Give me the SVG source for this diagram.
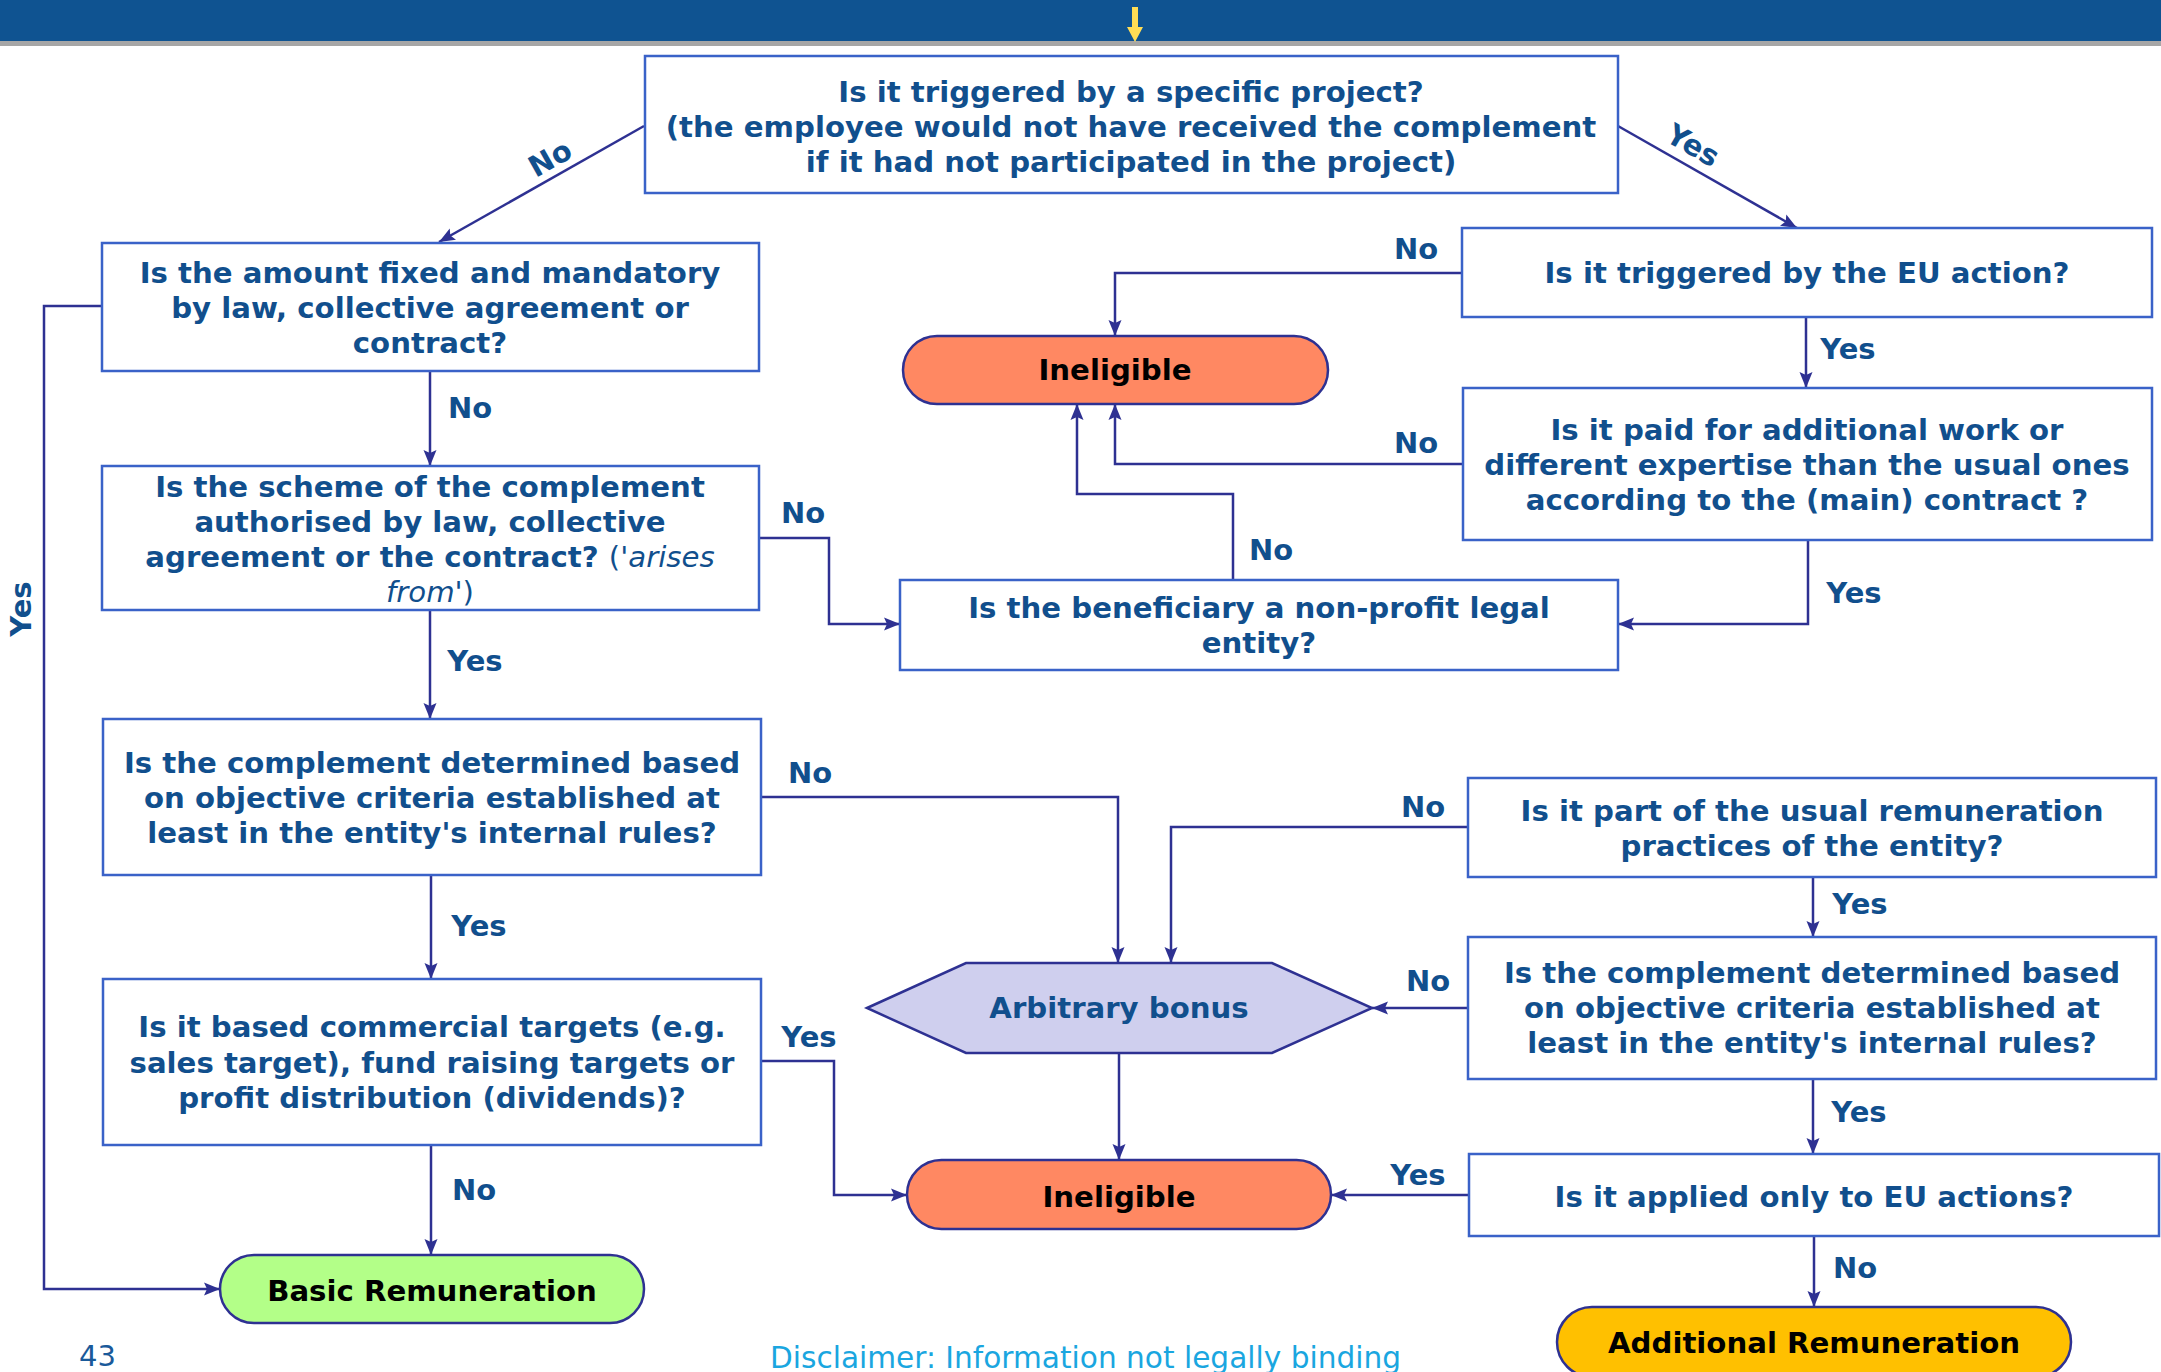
<svg xmlns="http://www.w3.org/2000/svg" width="2161" height="1372" viewBox="0 0 2161 1372">
<style>
.box{fill:#fff;stroke:#3a62c8;stroke-width:2.5}
.q{font-family:"DejaVu Sans","Verdana",sans-serif;font-weight:bold;font-size:29.2px;fill:#114f8d;text-anchor:middle}
.lbl{font-family:"DejaVu Sans","Verdana",sans-serif;font-weight:bold;font-size:29px;fill:#114f8d}
.term{font-family:"DejaVu Sans","Verdana",sans-serif;font-weight:bold;font-size:29.2px;fill:#000;text-anchor:middle}
.con{fill:none;stroke:#2e3192;stroke-width:2.5}
.it{font-style:italic;font-weight:normal}
.nw{font-weight:normal}
</style>
<defs>
<marker id="ah" markerUnits="userSpaceOnUse" markerWidth="18" markerHeight="14" refX="16" refY="7" orient="auto">
<path d="M0,0.5 L16,7 L0,13.5 L3,7 z" fill="#2e3192"/>
</marker>
</defs>
<g id="header">
<rect x="0" y="0" width="2161" height="41" fill="#0f5391"/>
<rect x="0" y="41" width="2161" height="5" fill="#a6a6a6"/>
<path d="M1132,7 H1138 V27 H1143 L1135,42 L1127,27 H1132 z" fill="#ffdd55"/>
</g>
<g id="connectors">
<path class="con" d="M644,126 L439,242" marker-end="url(#ah)"/>
<path class="con" d="M1618,126 L1797,228" marker-end="url(#ah)"/>
<path class="con" d="M1462,273 H1115 V336" marker-end="url(#ah)"/>
<path class="con" d="M1806,317 V388" marker-end="url(#ah)"/>
<path class="con" d="M1463,464 H1115 V404" marker-end="url(#ah)"/>
<path class="con" d="M1233,580 V494 H1077 V404" marker-end="url(#ah)"/>
<path class="con" d="M1808,540 V624 H1618" marker-end="url(#ah)"/>
<path class="con" d="M759,538 H829 V624 H900" marker-end="url(#ah)"/>
<path class="con" d="M430,371 V466" marker-end="url(#ah)"/>
<path class="con" d="M430,610 V719" marker-end="url(#ah)"/>
<path class="con" d="M102,306 H44 V1289 H220" marker-end="url(#ah)"/>
<path class="con" d="M761,797 H1118 V963" marker-end="url(#ah)"/>
<path class="con" d="M1468,827 H1171 V963" marker-end="url(#ah)"/>
<path class="con" d="M1813,877 V937" marker-end="url(#ah)"/>
<path class="con" d="M1468,1008 H1372" marker-end="url(#ah)" stroke-width="3.5"/>
<path class="con" d="M1813,1079 V1154" marker-end="url(#ah)"/>
<path class="con" d="M1119,1053 V1160" marker-end="url(#ah)" stroke-width="4"/>
<path class="con" d="M1469,1195 H1331" marker-end="url(#ah)" stroke-width="3"/>
<path class="con" d="M1814,1236 V1307" marker-end="url(#ah)"/>
<path class="con" d="M761,1061 H834 V1195 H907" marker-end="url(#ah)"/>
<path class="con" d="M431,875 V979" marker-end="url(#ah)"/>
<path class="con" d="M431,1145 V1255" marker-end="url(#ah)"/>
</g>
<g id="labels">
<text class="lbl" transform="translate(555,167) rotate(-29.5)" text-anchor="middle">No</text>
<text class="lbl" transform="translate(1688,154) rotate(30)" text-anchor="middle">Yes</text>
<text class="lbl" x="1416" y="259" text-anchor="middle">No</text>
<text class="lbl" x="1848" y="359" text-anchor="middle">Yes</text>
<text class="lbl" x="1416" y="453" text-anchor="middle">No</text>
<text class="lbl" x="1271" y="560" text-anchor="middle">No</text>
<text class="lbl" x="1854" y="603" text-anchor="middle">Yes</text>
<text class="lbl" x="803" y="523" text-anchor="middle">No</text>
<text class="lbl" x="470" y="418" text-anchor="middle">No</text>
<text class="lbl" x="475" y="671" text-anchor="middle">Yes</text>
<text class="lbl" transform="translate(31,609) rotate(-90)" text-anchor="middle">Yes</text>
<text class="lbl" x="810" y="783" text-anchor="middle">No</text>
<text class="lbl" x="1423" y="817" text-anchor="middle">No</text>
<text class="lbl" x="1860" y="914" text-anchor="middle">Yes</text>
<text class="lbl" x="1428" y="991" text-anchor="middle">No</text>
<text class="lbl" x="1859" y="1122" text-anchor="middle">Yes</text>
<text class="lbl" x="1418" y="1185" text-anchor="middle">Yes</text>
<text class="lbl" x="1855" y="1278" text-anchor="middle">No</text>
<text class="lbl" x="809" y="1047" text-anchor="middle">Yes</text>
<text class="lbl" x="479" y="936" text-anchor="middle">Yes</text>
<text class="lbl" x="474" y="1200" text-anchor="middle">No</text>
</g>
<g id="n1">
<rect class="box" x="645" y="56" width="973" height="137"/>
<text class="q" x="1131" y="102">Is it triggered by a specific project?</text>
<text class="q" x="1131" y="137">(the employee would not have received the complement</text>
<text class="q" x="1131" y="172">if it had not participated in the project)</text>
</g>
<g id="n2">
<rect class="box" x="102" y="243" width="657" height="128"/>
<text class="q" x="430" y="283">Is the amount fixed and mandatory</text>
<text class="q" x="430" y="318">by law, collective agreement or</text>
<text class="q" x="430" y="353">contract?</text>
</g>
<g id="n3">
<rect class="box" x="1462" y="228" width="690" height="89"/>
<text class="q" x="1807" y="283">Is it triggered by the EU action?</text>
</g>
<g id="n4">
<rect x="903" y="336" width="425" height="68" rx="34" ry="34" fill="#ff8862" stroke="#2e3192" stroke-width="2.5"/>
<text class="term" x="1115" y="380">Ineligible</text>
</g>
<g id="n5">
<rect class="box" x="1463" y="388" width="689" height="152"/>
<text class="q" x="1807" y="440">Is it paid for additional work or</text>
<text class="q" x="1807" y="475">different expertise than the usual ones</text>
<text class="q" x="1807" y="510">according to the (main) contract ?</text>
</g>
<g id="n6">
<rect class="box" x="102" y="466" width="657" height="144"/>
<text class="q" x="430" y="497">Is the scheme of the complement</text>
<text class="q" x="430" y="532">authorised by law, collective</text>
<text class="q" x="430" y="567">agreement or the contract? <tspan class="nw">(</tspan><tspan class="it">'arises</tspan></text>
<text class="q" x="430" y="602"><tspan class="it">from'</tspan><tspan class="nw">)</tspan></text>
</g>
<g id="n7">
<rect class="box" x="900" y="580" width="718" height="90"/>
<text class="q" x="1259" y="618">Is the beneficiary a non-profit legal</text>
<text class="q" x="1259" y="653">entity?</text>
</g>
<g id="n8">
<rect class="box" x="103" y="719" width="658" height="156"/>
<text class="q" x="432" y="773">Is the complement determined based</text>
<text class="q" x="432" y="808">on objective criteria established at</text>
<text class="q" x="432" y="843">least in the entity's internal rules?</text>
</g>
<g id="n9">
<rect class="box" x="1468" y="778" width="688" height="99"/>
<text class="q" x="1812" y="821">Is it part of the usual remuneration</text>
<text class="q" x="1812" y="856">practices of the entity?</text>
</g>
<g id="n10">
<rect class="box" x="1468" y="937" width="688" height="142"/>
<text class="q" x="1812" y="983">Is the complement determined based</text>
<text class="q" x="1812" y="1018">on objective criteria established at</text>
<text class="q" x="1812" y="1053">least in the entity's internal rules?</text>
</g>
<g id="n11">
<polygon points="867,1008 966,963 1272,963 1372,1008 1272,1053 966,1053" fill="#cfcfee" stroke="#2e3192" stroke-width="2.5"/>
<text class="q" x="1119" y="1018">Arbitrary bonus</text>
</g>
<g id="n12">
<rect class="box" x="103" y="979" width="658" height="166"/>
<text class="q" x="432" y="1037">Is it based commercial targets (e.g.</text>
<text class="q" x="432" y="1073">sales target), fund raising targets or</text>
<text class="q" x="432" y="1108">profit distribution (dividends)?</text>
</g>
<g id="n13">
<rect x="907" y="1160" width="424" height="69" rx="34.5" ry="34.5" fill="#ff8862" stroke="#2e3192" stroke-width="2.5"/>
<text class="term" x="1119" y="1207">Ineligible</text>
</g>
<g id="n14">
<rect class="box" x="1469" y="1154" width="690" height="82"/>
<text class="q" x="1814" y="1207">Is it applied only to EU actions?</text>
</g>
<g id="n15">
<rect x="220" y="1255" width="424" height="68" rx="34" ry="34" fill="#b3ff88" stroke="#2e3192" stroke-width="2.5"/>
<text class="term" x="432" y="1301">Basic Remuneration</text>
</g>
<g id="n16">
<rect x="1557" y="1307" width="514" height="70" rx="35" ry="35" fill="#ffc000" stroke="#2e3192" stroke-width="2.5"/>
<text class="term" x="1814" y="1353">Additional Remuneration</text>
</g>
<g id="footer">
<text x="79" y="1366" font-family="DejaVu Sans, Verdana, sans-serif" font-size="29" fill="#1a5a9a">43</text>
<text x="770" y="1368" font-family="DejaVu Sans, Verdana, sans-serif" font-size="29.6" fill="#1aa6e0">Disclaimer: Information not legally binding</text>
</g>
</svg>
